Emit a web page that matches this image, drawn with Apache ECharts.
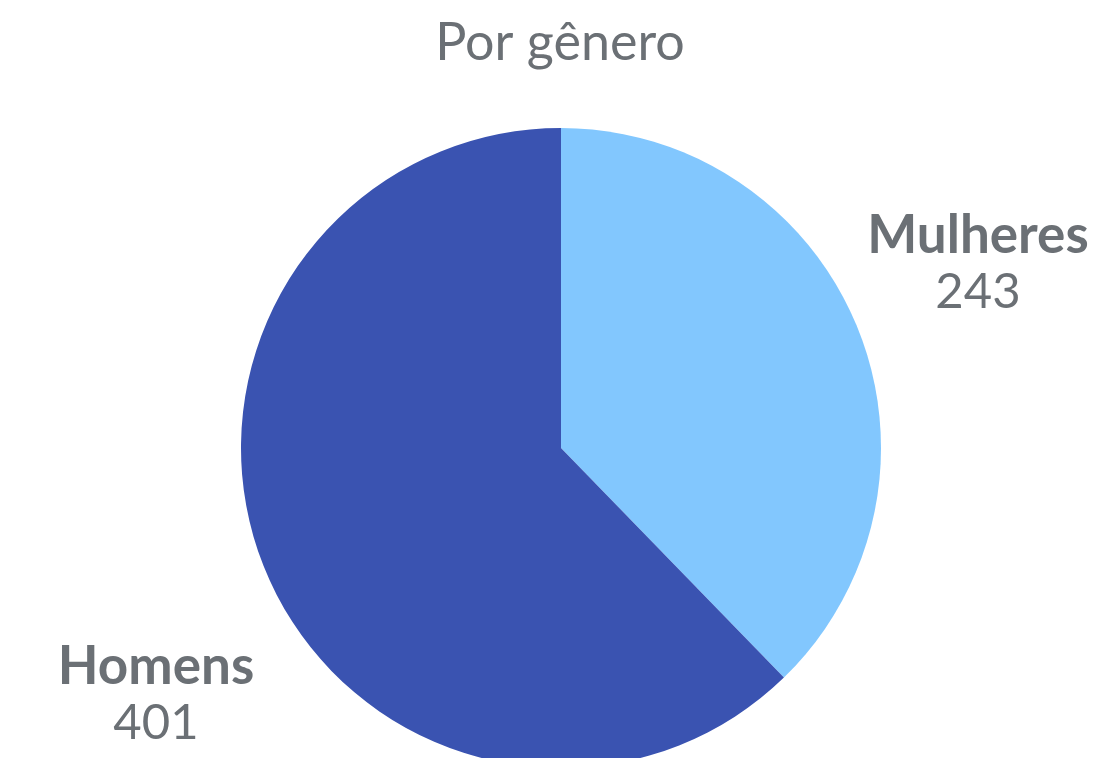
<!DOCTYPE html>
<html>
<head>
<meta charset="utf-8">
<script src="https://cdn.jsdelivr.net/npm/echarts@6/dist/echarts.min.js"></script>
<style>
  html, body { margin: 0; padding: 0; background: #fff; }
  #chart { width: 1096px; height: 758px; }
</style>
</head>
<body>
<div id="chart"></div>
<script>
// dados
const categorias = ['Mulheres', 'Homens'];
const valores = [243, 401];
const cores = ['#82c7fe', '#3a53b1'];
// onde fica o centro de cada rótulo
const posRotulos = [[978, 264], [156, 695]];

const fonte = 'Lato';
const cinza = '#6b7075';

const chart = echarts.init(document.getElementById('chart'));
chart.setOption({
  animation: false,
  title: {
    text: 'Por gênero',
    left: 555,
    textAlign: 'center',
    top: 12,
    textStyle: { fontFamily: fonte, fontSize: 52, fontWeight: 'normal', color: cinza }
  },
  series: [{
    type: 'pie',
    center: [561, 448],
    radius: 320,
    startAngle: 90,
    clockwise: true,
    silent: true,
    data: categorias.map((nome, i) => ({
      name: nome,
      value: valores[i],
      itemStyle: { color: cores[i] }
    })),
    label: {
      show: true,
      position: 'outside',
      overflow: 'none',
      formatter: '{n|{b}}\n{v|{c}}',
      rich: {
        n: { fontFamily: fonte, fontSize: 53, fontWeight: 'bold', color: cinza, lineHeight: 57, align: 'center' },
        v: { fontFamily: fonte, fontSize: 49, fontWeight: 'normal', color: cinza, lineHeight: 57, align: 'center' }
      }
    },
    labelLine: { show: false },
    labelLayout: (p) => ({
      x: posRotulos[p.dataIndex][0],
      y: posRotulos[p.dataIndex][1],
      align: 'center',
      verticalAlign: 'middle'
    })
  }]
});
</script>
</body>
</html>
